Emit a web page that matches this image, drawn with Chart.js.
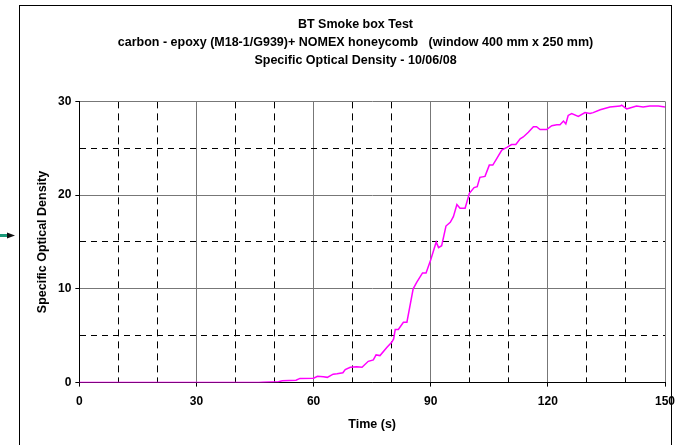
<!DOCTYPE html>
<html>
<head>
<meta charset="utf-8">
<script src="https://cdn.jsdelivr.net/npm/chart.js@4"></script>
<style>
  html, body { margin: 0; padding: 0; background: #fff; }
  #wrap { width: 676px; height: 445px; }
</style>
</head>
<body>
<div id="wrap"><canvas id="chartSmoke" width="676" height="445"></canvas></div>
<script>
// Dados (tempo em s, densidade óptica específica)
const timeS = [0, 46, 47, 51, 52, 55.5, 56.5, 60, 61, 62.5, 63.5, 65, 66, 67.5, 68.1, 69.4, 71, 72.4,
    74, 75.3, 76, 77, 78.8, 80, 80.5, 80.9, 81.7, 83, 83.9, 85.5, 86.4, 87.9, 88.8, 90, 91.4, 92, 92.8,
    93.9, 95, 95.8, 96.7, 97.5, 98.8, 99.9, 101.1, 101.9, 102.6, 103.9, 105, 105.9, 106.9, 108.2, 109.5,
    110.7, 111.8, 112.9, 113.7, 115, 116.3, 117.1, 118, 119.7, 121, 122.3, 123.1, 124, 124.6, 125.2,
    126.1, 127.8, 129.5, 130.8, 131.6, 133.4, 135.9, 138.5, 138.9, 140.2, 141, 142.7, 144.4, 146.1,
    148.3, 150];
const density = [0, 0, 0.05, 0.1, 0.2, 0.25, 0.45, 0.47, 0.67, 0.62, 0.56, 0.9, 0.95, 1.05, 1.39, 1.63,
    1.7, 1.63, 2.27, 2.42, 2.95, 2.88, 3.77, 4.3, 4.66, 5.66, 5.66, 6.44, 6.44, 10.0, 10.7, 11.7, 11.7,
    13.1, 15.0, 14.4, 14.6, 16.7, 17.1, 17.7, 19.0, 18.6, 18.6, 20.2, 20.8, 20.9, 21.9, 22.0, 23.2, 23.2,
    23.9, 24.8, 25.1, 25.4, 25.4, 26.0, 26.2, 26.7, 27.3, 27.3, 27.0, 27.0, 27.4, 27.5, 27.5, 27.9, 27.6,
    28.5, 28.7, 28.4, 28.8, 28.7, 28.8, 29.1, 29.4, 29.5, 29.6, 29.2, 29.3, 29.5, 29.4, 29.5, 29.5, 29.4];
const xTickLabels = [0, 30, 60, 90, 120, 150];
const yTickLabels = [0, 10, 20, 30];
const titleLines = [
    'BT Smoke box Test',
    'carbon - epoxy (M18-1/G939)+ NOMEX honeycomb   (window 400 mm x 250 mm)',
    'Specific Optical Density - 10/06/08'
];

const fontFamily = '"Liberation Sans", Arial, sans-serif';
const fontTick = { family: fontFamily, weight: 'bold', size: 12 };
const fontTitle = { family: fontFamily, weight: 'bold', size: 12.5 };

// Moldura externa, fundo branco e a pequena seta à esquerda
const framePlugin = {
    id: 'frame',
    beforeDraw(chart) {
        const ctx = chart.ctx;
        ctx.save();
        ctx.fillStyle = '#fff';
        ctx.fillRect(0, 0, chart.width, chart.height);
        ctx.strokeStyle = '#000';
        ctx.lineWidth = 1;
        ctx.strokeRect(19.5, 5.5, 652, 460);
        ctx.fillStyle = '#1a9a7a';
        ctx.fillRect(0, 234, 8, 3);
        ctx.fillStyle = '#111';
        ctx.beginPath();
        ctx.moveTo(7, 232.5);
        ctx.lineTo(15, 235.5);
        ctx.lineTo(7, 238.5);
        ctx.closePath();
        ctx.fill();
        ctx.restore();
    }
};

function isLabeled(list, v) {
    return list.indexOf(Math.round(v)) !== -1;
}

window.addEventListener('DOMContentLoaded', function() {
    const ctxSmoke = document.getElementById('chartSmoke').getContext('2d');
    new Chart(ctxSmoke, {
        type: 'line',
        data: {
            datasets: [{
                data: timeS.map((t, i) => ({ x: t, y: density[i] })),
                borderColor: '#ff00ff',
                borderWidth: 1.5,
                pointRadius: 0,
                tension: 0,
                fill: false
            }]
        },
        options: {
            responsive: false,
            animation: false,
            layout: { padding: { left: 35, right: 0, top: 15, bottom: 13 } },
            plugins: {
                legend: { display: false },
                tooltip: { enabled: false },
                title: {
                    display: true,
                    text: titleLines,
                    color: '#000',
                    font: { ...fontTitle, lineHeight: 1.45 },
                    padding: { top: 0, bottom: 32 }
                }
            },
            scales: {
                x: {
                    type: 'linear',
                    min: 0,
                    max: 150,
                    // o rótulo "150" pode ultrapassar um pouco a área, como no original
                    afterFit: (scale) => { scale.paddingRight = 11; },
                    ticks: {
                        stepSize: 10,
                        autoSkip: false,
                        maxRotation: 0,
                        color: '#000',
                        font: fontTick,
                        padding: 8,
                        callback: (v) => isLabeled(xTickLabels, v) ? v : ''
                    },
                    grid: {
                        color: (c) => (c.tick && c.tick.value % 30 !== 0) ? '#000' : '#777',
                        lineWidth: 1,
                        tickLength: 4,
                        tickColor: (c) => (c.tick && c.tick.value % 30 !== 0) ? 'rgba(0,0,0,0)' : '#000'
                    },
                    border: {
                        color: '#000',
                        width: 1,
                        dash: (c) => (c.tick && c.tick.value % 30 !== 0) ? [7, 5] : []
                    },
                    title: {
                        display: true,
                        text: 'Time (s)',
                        color: '#000',
                        font: fontTitle,
                        padding: { top: 0, bottom: 0 }
                    }
                },
                y: {
                    min: 0,
                    max: 30,
                    ticks: {
                        stepSize: 5,
                        autoSkip: false,
                        color: '#000',
                        font: fontTick,
                        padding: 4,
                        callback: (v) => isLabeled(yTickLabels, v) ? v : ''
                    },
                    grid: {
                        color: (c) => (c.tick && c.tick.value % 10 !== 0) ? '#000' : '#777',
                        lineWidth: 1,
                        tickLength: 4,
                        tickColor: (c) => (c.tick && c.tick.value % 10 !== 0) ? 'rgba(0,0,0,0)' : '#000'
                    },
                    border: {
                        color: '#000',
                        width: 1,
                        dash: (c) => (c.tick && c.tick.value % 10 !== 0) ? [6, 5] : []
                    },
                    title: {
                        display: true,
                        text: 'Specific Optical Density',
                        color: '#000',
                        font: fontTitle,
                        padding: { top: 0, bottom: 4 }
                    }
                }
            }
        },
        plugins: [framePlugin]
    });
});
</script>
</body>
</html>
